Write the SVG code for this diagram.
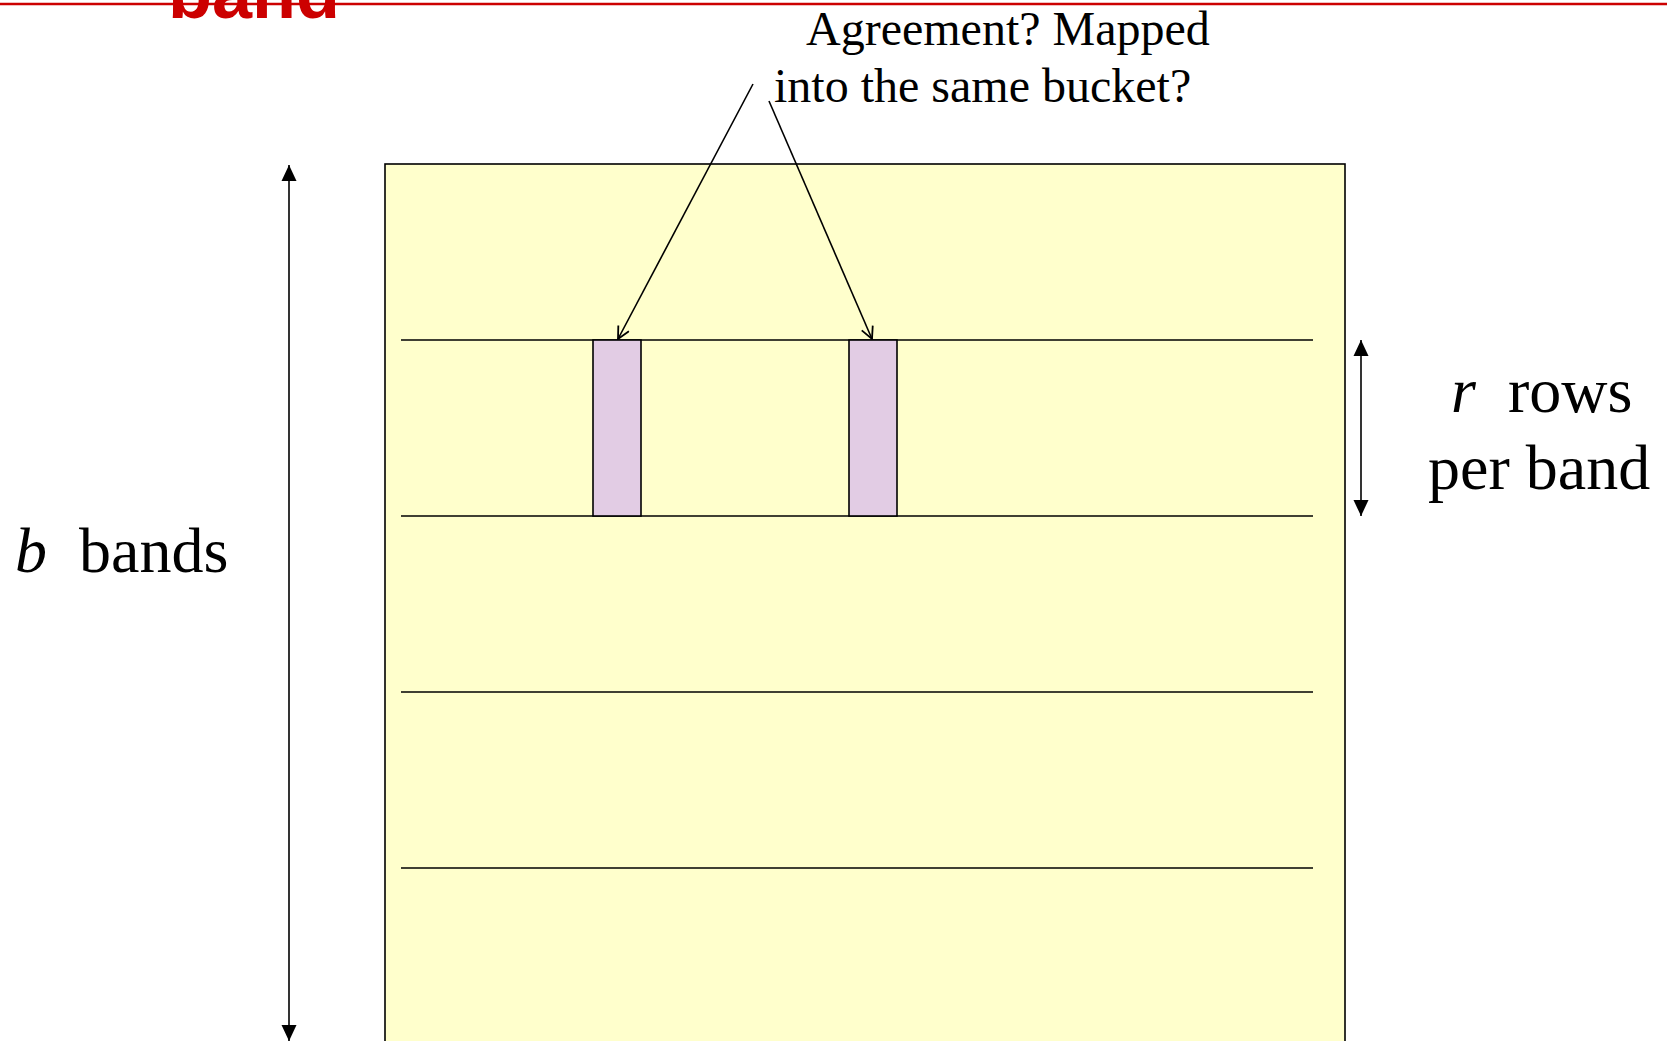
<svg xmlns="http://www.w3.org/2000/svg" width="1667" height="1041" viewBox="0 0 1667 1041">
<style>
.serif{font-family:"Liberation Serif","Times New Roman",serif;fill:#000}
.line{stroke:#000;stroke-width:1.6;fill:none}
.band{fill:#E2CCE4;stroke:#000;stroke-width:1.6}
</style>
<defs>
<marker id="open" viewBox="0 0 14 14" refX="13" refY="7" markerWidth="14" markerHeight="14" markerUnits="userSpaceOnUse" orient="auto">
<path d="M1,1 L13,7 L1,13" fill="none" stroke="#000" stroke-width="1.8"/>
</marker>
<marker id="solid" viewBox="0 0 16 16" refX="16" refY="8" markerWidth="16" markerHeight="16" markerUnits="userSpaceOnUse" orient="auto-start-reverse">
<path d="M0,0.5 L16,8 L0,15.5 Z" fill="#000"/>
</marker>
</defs>
<rect width="1667" height="1041" fill="#fff"/>
<g id="title">
<line x1="0" y1="4" x2="1667" y2="4" stroke="#CC0000" stroke-width="2.5"/>
<text x="168" y="18" font-family="Liberation Sans, Arial, sans-serif" font-weight="bold" font-size="72" fill="#CC0000">band</text>
</g>
<g id="matrix">
<rect x="385" y="164" width="960" height="900" fill="#FFFFCC" stroke="#000" stroke-width="1.6"/>
<line class="line" x1="401" y1="340" x2="1313" y2="340"/>
<line class="line" x1="401" y1="516" x2="1313" y2="516"/>
<line class="line" x1="401" y1="692" x2="1313" y2="692"/>
<line class="line" x1="401" y1="868" x2="1313" y2="868"/>
</g>
<g id="col1"><rect class="band" x="593" y="340" width="48" height="176"/></g>
<g id="col2"><rect class="band" x="849" y="340" width="48" height="176"/></g>
<g id="question">
<text class="serif" font-size="48"><tspan x="806" y="45">Agreement? Mapped</tspan><tspan x="774" y="102">into the same bucket?</tspan></text>
</g>
<g id="b-label"><text class="serif" x="15" y="572" font-size="64" xml:space="preserve"><tspan font-style="italic">b</tspan>  bands</text></g>
<g id="r-label"><text class="serif" font-size="64" xml:space="preserve"><tspan x="1451" y="412"><tspan font-style="italic">r</tspan>  rows</tspan><tspan x="1428" y="489">per band</tspan></text></g>
<g id="connectors">
<line class="line" x1="753" y1="84" x2="618" y2="339" marker-end="url(#open)"/>
<line class="line" x1="769" y1="101" x2="872" y2="339" marker-end="url(#open)"/>
<line class="line" x1="289" y1="165" x2="289" y2="1041" marker-start="url(#solid)" marker-end="url(#solid)"/>
<line class="line" x1="1361" y1="340" x2="1361" y2="516" marker-start="url(#solid)" marker-end="url(#solid)"/>
</g>
</svg>
